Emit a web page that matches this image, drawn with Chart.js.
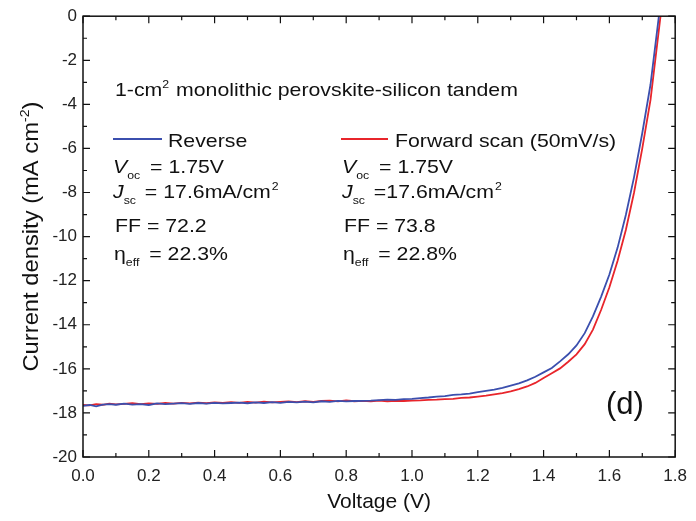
<!DOCTYPE html>
<html><head><meta charset="utf-8">
<style>html,body{margin:0;padding:0;background:#fff}#wrap{width:696px;height:521px}</style>
<script src="https://cdn.jsdelivr.net/npm/chart.js@4/dist/chart.umd.min.js"></script>
</head><body><div id="wrap"><canvas id="c" width="696" height="521"></canvas></div>
<script>
// ---- data ----
const voltageReverse = [0.00,0.02,0.04,0.06,0.08,0.10,0.125,0.15,0.175,0.20,0.225,0.25,0.275,0.30,0.325,0.35,0.375,0.40,0.425,0.45,0.475,0.50,0.525,0.55,0.575,0.60,0.625,0.65,0.675,0.70,0.725,0.75,0.775,0.80,0.825,0.85,0.875,0.90,0.925,0.95,0.975,1.00,1.025,1.05,1.075,1.10,1.125,1.15,1.175,1.20,1.225,1.25,1.275,1.30,1.325,1.35,1.375,1.40,1.425,1.45,1.475,1.50,1.525,1.55,1.575,1.60,1.625,1.65,1.675,1.70,1.725,1.75,1.76];
const currentReverse = [-17.68,-17.64,-17.70,-17.62,-17.60,-17.63,-17.58,-17.62,-17.60,-17.64,-17.57,-17.60,-17.58,-17.56,-17.59,-17.55,-17.58,-17.54,-17.57,-17.55,-17.53,-17.56,-17.52,-17.55,-17.51,-17.54,-17.50,-17.52,-17.49,-17.52,-17.47,-17.50,-17.45,-17.48,-17.46,-17.45,-17.44,-17.42,-17.40,-17.41,-17.37,-17.36,-17.33,-17.30,-17.26,-17.24,-17.18,-17.16,-17.12,-17.06,-17.00,-16.94,-16.86,-16.76,-16.66,-16.52,-16.36,-16.16,-15.96,-15.66,-15.34,-14.94,-14.38,-13.62,-12.72,-11.72,-10.50,-9.02,-7.30,-5.30,-3.10,-0.05,1.20];
const voltageForward = [0.00,0.02,0.04,0.06,0.08,0.10,0.125,0.15,0.175,0.20,0.225,0.25,0.275,0.30,0.325,0.35,0.375,0.40,0.425,0.45,0.475,0.50,0.525,0.55,0.575,0.60,0.625,0.65,0.675,0.70,0.725,0.75,0.775,0.80,0.825,0.85,0.875,0.90,0.925,0.95,0.975,1.00,1.025,1.05,1.075,1.10,1.125,1.15,1.175,1.20,1.225,1.25,1.275,1.30,1.325,1.35,1.375,1.40,1.425,1.45,1.475,1.50,1.525,1.55,1.575,1.60,1.625,1.65,1.675,1.70,1.725,1.755,1.765];
const currentForward = [-17.64,-17.66,-17.60,-17.63,-17.58,-17.61,-17.59,-17.56,-17.60,-17.57,-17.59,-17.55,-17.58,-17.54,-17.57,-17.53,-17.56,-17.52,-17.55,-17.51,-17.54,-17.50,-17.53,-17.49,-17.52,-17.50,-17.48,-17.51,-17.47,-17.50,-17.46,-17.44,-17.48,-17.43,-17.47,-17.45,-17.48,-17.44,-17.47,-17.45,-17.46,-17.44,-17.43,-17.41,-17.40,-17.37,-17.36,-17.32,-17.30,-17.26,-17.22,-17.16,-17.10,-17.02,-16.92,-16.80,-16.64,-16.42,-16.20,-15.98,-15.68,-15.34,-14.88,-14.22,-13.32,-12.30,-11.10,-9.70,-8.00,-6.00,-3.80,-0.05,1.20];
const xTickLabels = ['0.0','0.2','0.4','0.6','0.8','1.0','1.2','1.4','1.6','1.8'];
const yTickLabels = ['-20','-18','-16','-14','-12','-10','-8','-6','-4','-2','0'];
const seriesNames = ['Reverse','Forward scan (50mV/s)'];

const FONT = "Arial, 'Liberation Sans', sans-serif";
const BLUE = '#3b4fae', RED = '#e8252b';
const SX = 1.12; // horizontal stretch of the annotation text

function pts(xs, ys){ return xs.map((x,i)=>({x:x, y:ys[i]})); }

function rich(ctx, x, y, segs){
  let cx = x;
  for (const s of segs){
    ctx.font = (s.italic?'italic ':'') + (s.size||19) + 'px ' + FONT;
    const st = s.sx || SX;
    ctx.save();
    ctx.translate(cx, y + (s.dy||0));
    ctx.scale(st, 1);
    ctx.fillText(s.t, 0, 0);
    ctx.restore();
    cx += ctx.measureText(s.t).width * st + (s.after||0);
  }
  return cx;
}

const deco = {
  id:'deco',
  afterDraw(chart){
    const ctx = chart.ctx, a = chart.chartArea;
    const xs = chart.scales.x, ys = chart.scales.y;
    ctx.save();
    ctx.strokeStyle = '#111'; ctx.lineWidth = 1.5;
    ctx.strokeRect(a.left, a.top, a.right-a.left, a.bottom-a.top);
    ctx.lineWidth = 1.2;
    ctx.beginPath();
    for (let i=0;i<=18;i++){
      const v = i/10, px = xs.getPixelForValue(v), L = (i%2===0)?7:4;
      ctx.moveTo(px, a.bottom); ctx.lineTo(px, a.bottom-L);
      ctx.moveTo(px, a.top); ctx.lineTo(px, a.top+L);
    }
    for (let i=0;i<=20;i++){
      const v = -i, py = ys.getPixelForValue(v), L = (i%2===0)?7:4;
      ctx.moveTo(a.left, py); ctx.lineTo(a.left+L, py);
      ctx.moveTo(a.right, py); ctx.lineTo(a.right-L, py);
    }
    ctx.stroke();

    ctx.fillStyle = '#111'; ctx.textBaseline = 'alphabetic'; ctx.textAlign = 'left';
    // title line
    let cx = rich(ctx, 115, 96, [{t:'1-cm'}]);
    cx = rich(ctx, cx, 96, [{t:'2', size:11, dy:-8, after:1}]);
    rich(ctx, cx, 96, [{t:' monolithic perovskite-silicon tandem'}]);

    // legend lines
    ctx.lineWidth = 2;
    ctx.strokeStyle = BLUE; ctx.beginPath(); ctx.moveTo(113,139); ctx.lineTo(162,139); ctx.stroke();
    ctx.strokeStyle = RED; ctx.beginPath(); ctx.moveTo(341,139); ctx.lineTo(388,139); ctx.stroke();
    ctx.fillStyle = '#111';
    rich(ctx, 168, 147, [{t:seriesNames[0]}]);
    rich(ctx, 395, 147, [{t:seriesNames[1]}]);

    const cols = [[113,'1.75V',' = 17.6mA/cm','72.2','22.3%'],[342,'1.75V',' =17.6mA/cm','73.8','22.8%']];
    for (const c of cols){
      const x0 = c[0];
      rich(ctx, x0, 173, [{t:'V', italic:true},{t:'oc', size:11, dy:6, after:4},{t:' = '+c[1]}]);
      let e = rich(ctx, x0, 198, [{t:'J', italic:true},{t:'sc', size:11, dy:6, after:3},{t:c[2]}]);
      rich(ctx, e+1, 198, [{t:'2', size:11, dy:-8}]);
      rich(ctx, x0+2, 232, [{t:'FF = '+c[3]}]);
      rich(ctx, x0+1, 260, [{t:'\u03B7'},{t:'eff', size:11, dy:6, after:4},{t:' = '+c[4]}]);
    }
    // panel label
    rich(ctx, 606, 414, [{t:'(d)', size:31, sx:1}]);

    // axis titles
    ctx.textAlign = 'center';
    ctx.font = '21px ' + FONT;
    ctx.fillText('Voltage (V)', (a.left+a.right)/2, 508);
    ctx.save();
    ctx.translate(38, (a.top+a.bottom)/2);
    ctx.rotate(-Math.PI/2);
    ctx.scale(1.08, 1);
    ctx.textAlign = 'left';
    const main = 'Current density (mA cm', tail = ')';
    ctx.font = '22px ' + FONT;
    const w1 = ctx.measureText(main).width;
    ctx.font = '13px ' + FONT;
    const w2 = ctx.measureText('-2').width;
    ctx.font = '22px ' + FONT;
    const w3 = ctx.measureText(tail).width;
    const tot = w1 + w2 + w3;
    let sx = -tot/2;
    ctx.fillText(main, sx, 0); sx += w1;
    ctx.font = '13px ' + FONT; ctx.fillText('-2', sx, -9); sx += w2;
    ctx.font = '22px ' + FONT; ctx.fillText(tail, sx, 0);
    ctx.restore();
    ctx.restore();
  }
};

new Chart(document.getElementById('c'), {
  type:'line',
  data:{ datasets:[
    {label:seriesNames[0], data:pts(voltageReverse,currentReverse), borderColor:BLUE, borderWidth:1.8, pointRadius:0, tension:0, fill:false},
    {label:seriesNames[1], data:pts(voltageForward,currentForward), borderColor:RED, borderWidth:1.8, pointRadius:0, tension:0, fill:false}
  ]},
  options:{
    responsive:false, animation:false, devicePixelRatio:1,
    layout:{padding:{top:13, right:19, left:0, bottom:0}},
    plugins:{legend:{display:false}, tooltip:{enabled:false}},
    scales:{
      x:{type:'linear', min:0, max:1.8,
        grid:{display:false, drawTicks:false}, border:{display:false},
        afterBuildTicks(s){ s.ticks = xTickLabels.map(t=>({value:parseFloat(t)})); },
        ticks:{color:'#222', font:{size:17, family:FONT}, padding:9, maxRotation:0, autoSkip:false,
          callback:(v,i)=>xTickLabels[i]},
        afterFit(s){ s.height = 64; }
      },
      y:{type:'linear', min:-20, max:0,
        grid:{display:false, drawTicks:false}, border:{display:false},
        afterBuildTicks(s){ s.ticks = yTickLabels.map(t=>({value:parseFloat(t)})); },
        ticks:{color:'#222', font:{size:17, family:FONT}, padding:6, autoSkip:false,
          callback:(v,i)=>yTickLabels[i]},
        afterFit(s){ s.width = 83; }
      }
    }
  },
  plugins:[deco]
});
</script>
</body></html>
